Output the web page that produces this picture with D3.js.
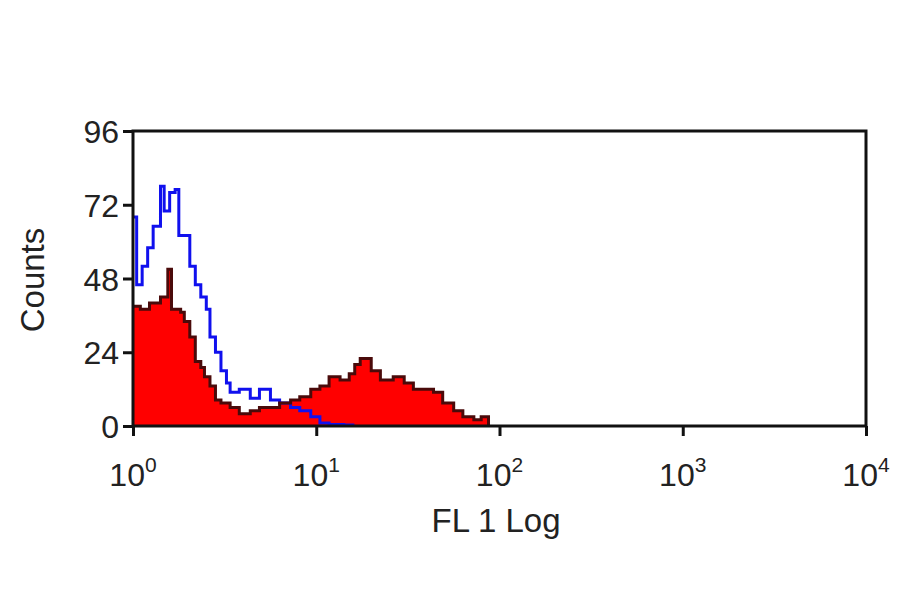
<!DOCTYPE html>
<html>
<head>
<meta charset="UTF-8" />
<script src="https://d3js.org/d3.v7.min.js"></script>
<style>body{margin:0;background:#fff}text{font-family:"Liberation Sans",Arial,sans-serif;fill:#222}</style>
</head>
<body>
<div id="chart"></div>
<script>
const blueLog = [0,0.02,0.05,0.08,0.11,0.15,0.17,0.2,0.23,0.25,0.28,0.31,0.34,0.37,0.4,0.42,0.45,0.48,0.51,0.53,0.58,0.64,0.69,0.75,0.8,0.86,0.91,0.97,1.02,1.07,1.15,1.2];
const blueCnt = [68,46,52,58,65,78,70,76,77,62,62,52,46,42,38,29,24,18,14,11,12,9,12,8.5,7.5,6,5,3,1,0.5,0.3,0];
const redLog = [0,0.04,0.09,0.15,0.19,0.21,0.26,0.28,0.31,0.34,0.37,0.39,0.42,0.45,0.48,0.53,0.58,0.64,0.69,0.75,0.8,0.86,0.91,0.97,1.02,1.07,1.13,1.18,1.21,1.24,1.3,1.35,1.42,1.48,1.53,1.58,1.64,1.69,1.75,1.8,1.86,1.9,1.94];
const redCnt = [39,38,40,42,51,38,37,34,29,21,19,16,13,8.5,7.5,6,4,5,6,6,7.5,8.5,9.5,12,13,16,15,17,20,22,18,15,16,14,12,12,11,7.5,5,3,2,3,0];
const yTicks = [0,24,48,72,96];
const xDecades = [0,1,2,3,4];

const W = 900, H = 594;
const m = {left:133, right:34, top:131, bottom:168};
const svg = d3.select("#chart").append("svg").attr("width",W).attr("height",H);
const x = d3.scaleLinear().domain([0,4]).range([m.left, W-m.right]);
const y = d3.scaleLinear().domain([0,96]).range([H-m.bottom, m.top]);

const step = d3.line().x(d=>x(d[0])).y(d=>y(d[1])).curve(d3.curveStepAfter);
const area = d3.area().x(d=>x(d[0])).y0(y(0)).y1(d=>y(d[1])).curve(d3.curveStepAfter);
const red = d3.zip(redLog, redCnt), blue = d3.zip(blueLog, blueCnt);

svg.append("path").attr("d", area(red)).attr("fill","#ff0000");
svg.append("path").attr("d", step(blue)).attr("fill","none").attr("stroke","#1010ee").attr("stroke-width",3);
svg.append("path").attr("d", step(red)).attr("fill","none").attr("stroke","#4a0a0a").attr("stroke-width",3);

svg.append("rect").attr("x",m.left).attr("y",m.top).attr("width",W-m.right-m.left).attr("height",H-m.bottom-m.top)
  .attr("fill","none").attr("stroke","#111").attr("stroke-width",3);

const ya = svg.append("g").attr("transform",`translate(${m.left},0)`)
  .call(d3.axisLeft(y).tickValues(yTicks).tickSize(10).tickPadding(4));
ya.select(".domain").remove();
ya.selectAll("line").attr("stroke","#111").attr("stroke-width",3);
ya.selectAll("text").style("font-size","32px").attr("dy","0.36em");

const xa = svg.append("g").attr("transform",`translate(0,${H-m.bottom})`)
  .call(d3.axisBottom(x).tickValues(xDecades).tickSize(10).tickFormat(""));
xa.select(".domain").remove();
xa.selectAll("line").attr("stroke","#111").attr("stroke-width",3);
xDecades.forEach(d=>{
  const t = svg.append("text").attr("x",x(d)).attr("y",486).attr("text-anchor","middle").style("font-size","32px");
  t.append("tspan").text("10");
  t.append("tspan").attr("dy",-14).style("font-size","21px").text(d);
});

svg.append("text").attr("x",496).attr("y",532).attr("text-anchor","middle").style("font-size","33px").text("FL 1 Log");
svg.append("text").attr("transform","translate(44,280) rotate(-90)").attr("text-anchor","middle").style("font-size","33px").text("Counts");
</script>
</body>
</html>
